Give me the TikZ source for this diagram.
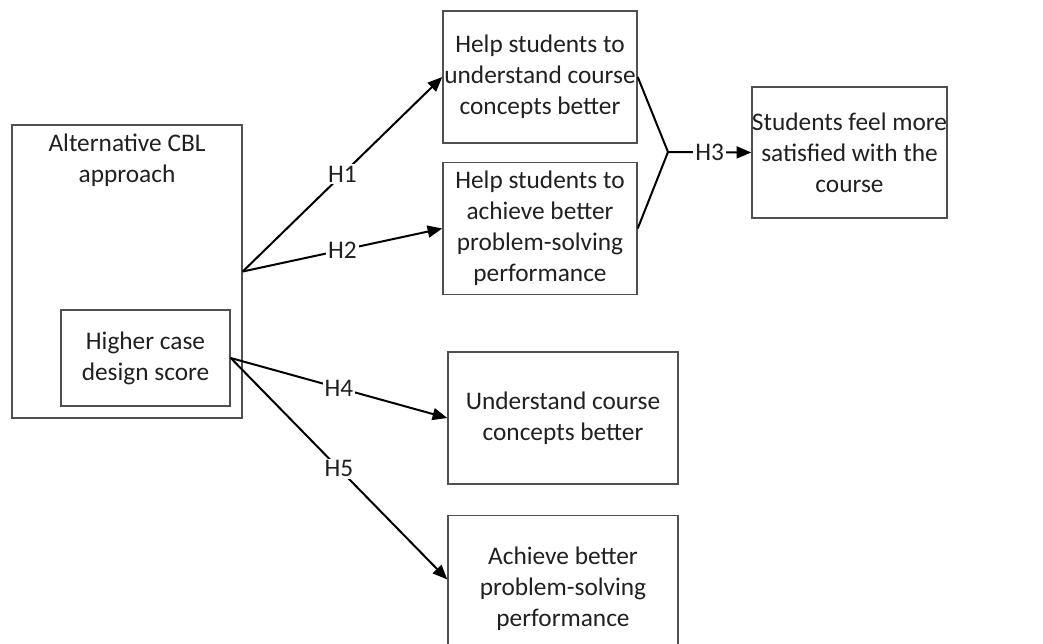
\documentclass[tikz,border=0pt]{standalone}
\usepackage{fontspec}
\setmainfont{Carlito}
\usetikzlibrary{arrows.meta,positioning}
\definecolor{BoxLine}{HTML}{505050}
\definecolor{TextDark}{HTML}{202020}

\begin{document}
\begin{tikzpicture}[
  x=0.75pt,y=-0.75pt,
  font=\fontsize{19}{23.25}\selectfont,
  box/.style={draw=BoxLine,line width=1.1pt,align=center,inner sep=0pt,text=TextDark},
  link/.style={line width=1.5pt,-{Triangle[length=11pt,width=9pt]}},
  hyp/.style={fill=white,inner sep=1.5pt,text=TextDark}
]
\clip (0,0) rectangle (1043,643);
\node[box,minimum width=172.5pt,minimum height=219.75pt] (alt) at (127,271.5) {};
\node[text=TextDark,align=center] (altlbl) at (127,160) {Alternative CBL\\approach};
\node[box,minimum width=126.75pt,minimum height=72pt] (design) at (145.5,358) {Higher case\\design score};
\node[box,minimum width=145.5pt,minimum height=99pt] (concepts) at (540,77) {Help students to\\understand course\\concepts better};
\node[box,minimum width=145.5pt,minimum height=99pt,below=13.5pt of concepts] (solving) {Help students to\\achieve better\\problem-solving\\performance};
\node[box,minimum width=137.25pt,minimum height=98.25pt] (satisfied) at (849.5,152.5) {Students feel more\\satisfied with the\\course};
\node[box,minimum width=172.5pt,minimum height=99pt] (understand) at (563,418) {Understand course\\concepts better};
\node[box,minimum width=172.5pt,minimum height=109.5pt,below=22.5pt of understand] (achieve) {Achieve better\\problem-solving\\performance};
\coordinate (join) at (668,152);

\draw[link] (alt.east) -- node[hyp]{H1} (concepts.west);
\draw[link] (alt.east) -- node[hyp]{H2} (solving.west);
\draw[line width=1.5pt] (concepts.east) -- (join) -- (solving.east);
\draw[link] (join) -- node[hyp]{H3} (satisfied.west);
\draw[link] (design.east) -- node[hyp]{H4} (understand.west);
\draw[link] (design.east) -- node[hyp]{H5} ([yshift=6.75pt]achieve.west);
\end{tikzpicture}
\end{document}
